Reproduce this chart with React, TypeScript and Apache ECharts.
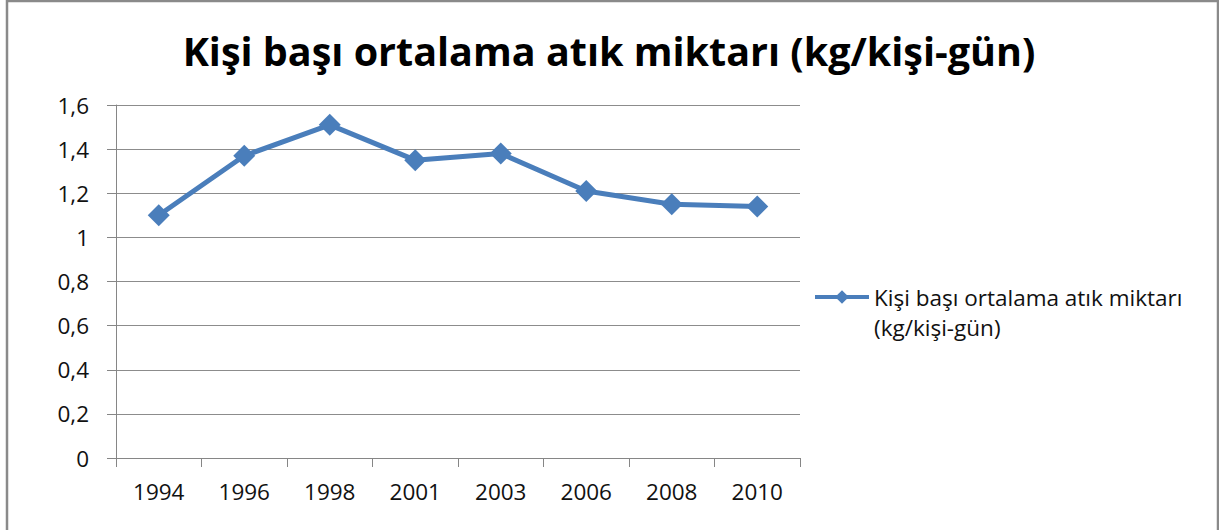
import React, { useEffect, useRef } from "react";
import * as echarts from "echarts";

const titleText = "Kişi başı ortalama atık miktarı (kg/kişi-gün)";
const seriesName = "Kişi başı ortalama atık miktarı (kg/kişi-gün)";
const legendLines = ["Kişi başı ortalama atık miktarı", "(kg/kişi-gün)"];
const categories = ["1994", "1996", "1998", "2001", "2003", "2006", "2008", "2010"];
const values = [1.1, 1.37, 1.51, 1.35, 1.38, 1.21, 1.15, 1.14];
const yMin = 0;
const yMax = 1.6;
const yInterval = 0.2;

const BLUE = "#4A7EBB";
const FONT = "Open Sans";

export default function App() {
  const ref = useRef<HTMLDivElement>(null);
  useEffect(() => {
    if (!ref.current) return;
    const chart = echarts.init(ref.current, null, { renderer: "svg" });
    chart.setOption({
      animation: false,
      backgroundColor: "#ffffff",
      title: {
        text: titleText,
        left: 604,
        textAlign: "center",
        top: 26,
        textStyle: { fontFamily: FONT, fontWeight: "bold", fontSize: 39.5, color: "#000" },
      },
      graphic: [
        {
          type: "rect",
          shape: { x: 7, y: 1, width: 1211, height: 560 },
          style: { fill: "none", stroke: "#8a8a8a", lineWidth: 2.5 },
          silent: true,
        },
      ],
      legend: {
        left: 808,
        top: 247,
        padding: 5,
        itemWidth: 54,
        itemHeight: 17,
        itemGap: 6,
        data: [seriesName],
        lineStyle: { width: 4, color: BLUE },
        formatter: () => " \n" + legendLines.join("\n"),
        textStyle: {
          fontFamily: FONT,
          fontSize: 22.5,
          color: "#111",
          lineHeight: 30,
        },
      },
      grid: { left: 116, right: 419, top: 105, bottom: 72 },
      xAxis: {
        type: "category",
        data: categories,
        boundaryGap: true,
        axisLine: { lineStyle: { color: "#868686", width: 1 } },
        axisTick: { show: true, length: 9, lineStyle: { color: "#868686" } },
        axisLabel: { fontFamily: FONT, fontSize: 22.5, color: "#111", margin: 22 },
      },
      yAxis: {
        type: "value",
        min: yMin,
        max: yMax,
        interval: yInterval,
        axisLine: { show: true, lineStyle: { color: "#868686", width: 1 } },
        axisTick: { show: true, length: 9, lineStyle: { color: "#868686" } },
        axisLabel: {
          fontFamily: FONT,
          fontSize: 22.5,
          color: "#111",
          margin: 27,
          formatter: (v: number) => String(Math.round(v * 10) / 10).replace(".", ","),
        },
        splitLine: { show: true, lineStyle: { color: "#8c8c8c", width: 1 } },
      },
      series: [
        {
          name: seriesName,
          type: "line",
          data: values,
          symbol: "diamond",
          symbolSize: 22,
          lineStyle: { color: BLUE, width: 5 },
          itemStyle: { color: BLUE },
        },
      ],
    });
    return () => chart.dispose();
  }, []);
  return (
    <div
      ref={ref}
      style={{ position: "absolute", left: 0, top: 0, width: 1219, height: 530 }}
    />
  );
}
